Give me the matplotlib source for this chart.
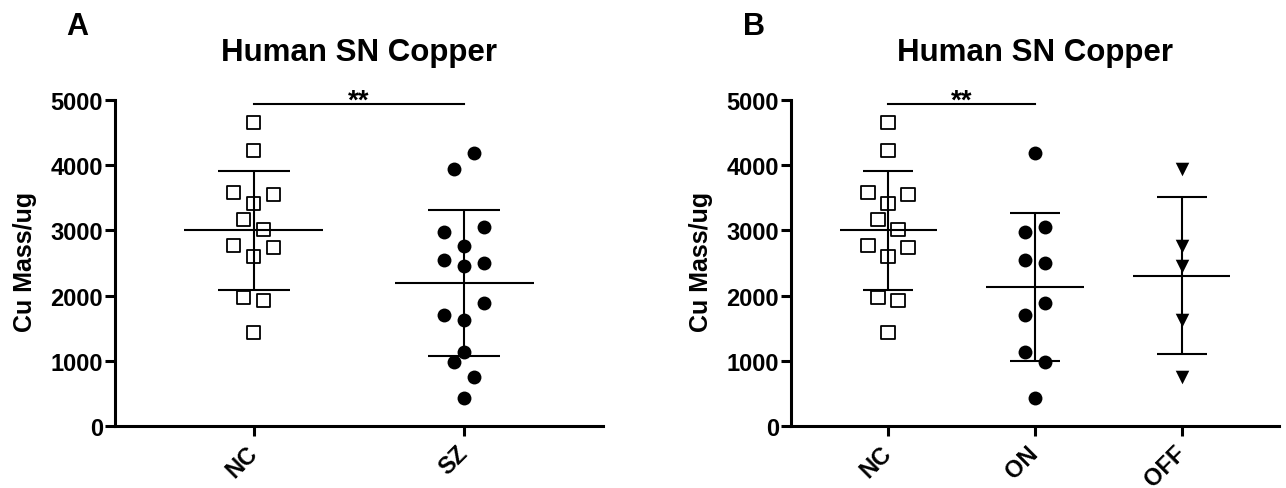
import matplotlib
matplotlib.use('Agg')
import matplotlib.pyplot as plt
import numpy as np

plt.rcParams['font.family'] = ['Liberation Sans', 'DejaVu Sans']
plt.rcParams['font.weight'] = 'bold'

# Cu mass/ug per subject
nc = [4658, 4222, 3574, 3558, 3416, 3164, 3011, 2765, 2740, 2603, 1974, 1922, 1437]
sz = [3942, 4182, 2975, 3052, 2761, 2541, 2495, 2454, 1703, 1887, 1631, 1130, 977, 752, 425]
on = [4182, 2975, 3052, 2541, 2495, 1703, 1887, 1130, 977, 425]
off = [3942, 2761, 2454, 1631, 752]

cats_a = ['NC', 'SZ']
cats_b = ['NC', 'ON', 'OFF']
yticks = [0, 1000, 2000, 3000, 4000, 5000]
sig_label = '**'

W, H = 1286, 489
fig = plt.figure(figsize=(W / 100, H / 100), dpi=100)


def swarm(vals, gap=300):
    # prism-like spreading: points within `gap` of a row's lowest value share a row
    vals = np.asarray(vals, float)
    order = np.argsort(vals, kind='stable')
    rows = []
    for i in order:
        if rows and vals[i] - vals[rows[-1][0]] < gap:
            rows[-1].append(i)
        else:
            rows.append([i])
    slots = np.zeros(len(vals))
    for r in rows:
        n = len(r)
        if n % 2:
            members = [r[0]] + sorted(r[1:])
            pos = [0] + [s * k for k in range(1, n // 2 + 1) for s in (-1, 1)]
        else:
            members = sorted(r)
            pos = [s * (k - 0.5) for k in range(1, n // 2 + 1) for s in (-1, 1)]
        for m, p in zip(members, pos):
            slots[m] = p
    return slots


styles = {
    'NC': dict(marker='s', s=88, facecolors='none', edgecolors='black', linewidths=1.3),
    'SZ': dict(marker='o', s=100, color='black', linewidths=0),
    'ON': dict(marker='o', s=100, color='black', linewidths=0),
    'OFF': dict(marker='v', s=95, color='black', linewidths=0),
}


def panel(left, cats, data, sig, letter):
    rect = [left, 62 / H, 488 / W, 326 / H]
    ax = fig.add_axes(rect)
    n = len(cats)
    xmin, xmax = -0.66, n - 1 + 0.66
    ax.set_xlim(xmin, xmax)
    ax.set_ylim(0, 5000)
    step = 20 / (rect[2] * W / (xmax - xmin))  # 20 px between columns of points

    for i, (c, vals) in enumerate(zip(cats, data)):
        vals = np.asarray(vals, float)
        xs = i + swarm(vals) * step
        m, sd = vals.mean(), vals.std(ddof=1)
        ax.hlines(m, i - 0.33, i + 0.33, color='black', lw=1.5, zorder=2)
        ax.vlines(i, m - sd, m + sd, color='black', lw=1.5, zorder=2)
        ax.hlines([m - sd, m + sd], i - 0.17, i + 0.17, color='black', lw=1.5, zorder=2)
        ax.scatter(xs, vals, zorder=3, clip_on=False, **styles[c])

    a, b = cats.index(sig[0]), cats.index(sig[1])
    ax.plot([a, b], [4940, 4940], color='black', lw=1.5, clip_on=False)
    ax.annotate(sig_label, ((a + b) / 2, 4940), xytext=(0, -3), textcoords='offset points',
                ha='center', va='baseline', fontsize=20, fontweight='bold')

    for sp in ['top', 'right']:
        ax.spines[sp].set_visible(False)
    for sp in ['left', 'bottom']:
        ax.spines[sp].set_linewidth(2.2)
    ax.set_yticks(yticks)
    ax.set_xticks(range(n))
    ax.set_xticklabels(cats, rotation=45, ha='right', va='center', rotation_mode='anchor')
    ax.tick_params(width=2.2, length=7.5, labelsize=17)
    ax.tick_params(axis='y', pad=1)
    ax.tick_params(axis='x', pad=9)
    for t in ax.get_xticklabels() + ax.get_yticklabels():
        t.set_fontweight('bold')

    cx = left + rect[2] / 2
    fig.text(cx, 1 - 61 / H, 'Human SN Copper', ha='center', va='baseline',
             fontsize=22.5, fontweight='bold')
    fig.text(left - 0.0700, 1 - 262 / H, 'Cu Mass/ug', rotation=90,
             ha='center', va='center', fontsize=18, fontweight='bold')
    fig.text(left - 0.029, 1 - 35 / H, letter, ha='center', va='baseline',
             fontsize=22, fontweight='bold')
    return ax


panel(115 / W, cats_a, [nc, sz], ('NC', 'SZ'), 'A')
panel(791 / W, cats_b, [nc, on, off], ('NC', 'ON'), 'B')

fig.savefig('out.png', dpi=100)
